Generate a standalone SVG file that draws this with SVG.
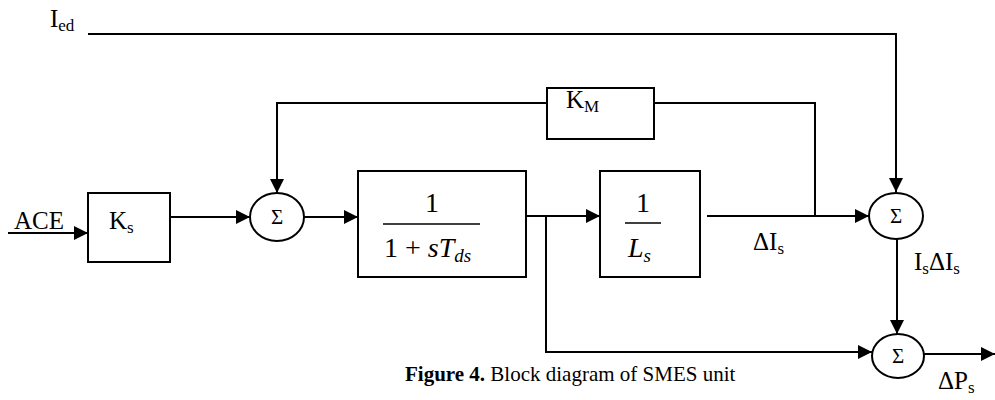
<svg xmlns="http://www.w3.org/2000/svg" width="995" height="400" viewBox="0 0 995 400">
<style>
.box{fill:#fff;stroke:#000;stroke-width:2}
.sum{fill:#fff;stroke:#000;stroke-width:2}
.wire{fill:none;stroke:#000;stroke-width:2}
.t{font-family:"Liberation Serif","Times New Roman",serif;fill:#000}
.lbl{font-size:25px}
.sub{font-size:17px}
.sig{font-size:21px}
.frac{font-size:28px}
.it{font-style:italic}
.cap{font-size:21px}
</style>
<defs>
<marker id="arr" markerUnits="userSpaceOnUse" markerWidth="15" markerHeight="14" refX="14" refY="7" orient="auto">
<path d="M0,0 L14,7 L0,14 Z" fill="#000"/>
</marker>
</defs>
<g id="connectors">
<path class="wire" d="M88,34 H896 V192" marker-end="url(#arr)"/>
<path class="wire" d="M8,233 H88" marker-end="url(#arr)"/>
<path class="wire" d="M170,217 H250" marker-end="url(#arr)"/>
<path class="wire" d="M304,217 H358" marker-end="url(#arr)"/>
<path class="wire" d="M547,103 H277 V193" marker-end="url(#arr)"/>
<path class="wire" d="M654,103 H815 V216"/>
<path class="wire" d="M518,216 H600" marker-end="url(#arr)"/>
<path class="wire" d="M546,216 V352 H872" marker-end="url(#arr)"/>
<path class="wire" d="M707,216 H869" marker-end="url(#arr)"/>
<path class="wire" d="M897,239 V334" marker-end="url(#arr)"/>
<path class="wire" d="M924,354 H995" marker-end="url(#arr)"/>
</g>
<g id="ied">
<text class="t lbl" x="50" y="27">I<tspan class="sub" dy="4">ed</tspan></text>
</g>
<g id="ace">
<text class="t lbl" x="14" y="229">ACE</text>
</g>
<g id="ks">
<rect class="box" x="88" y="193" width="82" height="69"/>
<text class="t lbl" x="109" y="229">K<tspan class="sub" dy="4">s</tspan></text>
</g>
<g id="sum1">
<ellipse class="sum" cx="277" cy="217" rx="27" ry="24"/>
<text class="t sig" x="277" y="224" text-anchor="middle">Σ</text>
</g>
<g id="km">
<rect class="box" x="547" y="88" width="107" height="51"/>
<text class="t lbl" x="566" y="108">K<tspan class="sub" dy="4">M</tspan></text>
</g>
<g id="tds">
<rect class="box" x="358" y="171" width="168" height="106"/>
<text class="t frac" x="432" y="212" text-anchor="middle">1</text>
<line x1="383" y1="224" x2="480" y2="224" stroke="#000" stroke-width="1.5"/>
<text class="t frac" x="384" y="257">1 + <tspan class="it">sT</tspan><tspan class="it" font-size="19" dy="5">ds</tspan></text>
</g>
<g id="ls">
<rect class="box" x="600" y="171" width="100" height="106"/>
<text class="t frac" x="643" y="212" text-anchor="middle">1</text>
<line x1="625" y1="223" x2="661" y2="223" stroke="#000" stroke-width="1.5"/>
<text class="t frac it" x="628" y="257">L<tspan font-size="19" dy="5">s</tspan></text>
</g>
<g id="sum2">
<ellipse class="sum" cx="896" cy="216" rx="27" ry="23"/>
<text class="t sig" x="896" y="223" text-anchor="middle">Σ</text>
</g>
<g id="sum3">
<ellipse class="sum" cx="898" cy="356" rx="26" ry="22"/>
<text class="t sig" x="898" y="363" text-anchor="middle">Σ</text>
</g>
<g id="labels">
<text class="t lbl" x="753" y="250">ΔI<tspan class="sub" dy="4">s</tspan></text>
<text class="t lbl" x="914" y="270">I<tspan class="sub" dy="4">s</tspan><tspan dy="-4">ΔI</tspan><tspan class="sub" dy="4">s</tspan></text>
<text class="t lbl" x="938" y="389">ΔP<tspan class="sub" dy="4">s</tspan></text>
<text class="t cap" x="405" y="381"><tspan font-weight="bold">Figure 4.</tspan> Block diagram of SMES unit</text>
</g>
</svg>
